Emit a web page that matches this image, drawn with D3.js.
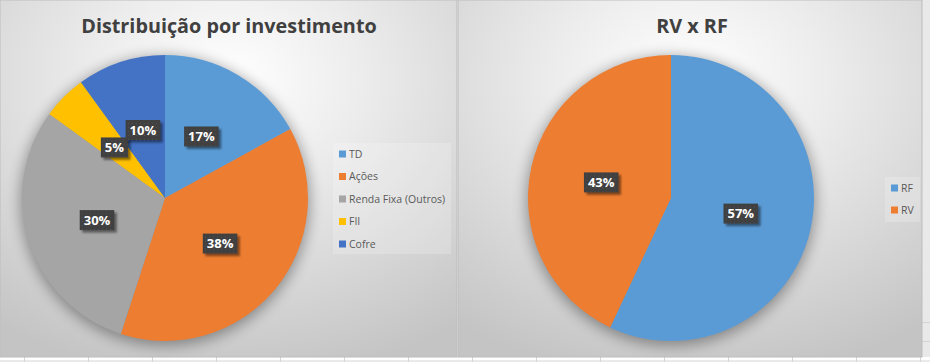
<!DOCTYPE html>
<html>
<head>
<meta charset="utf-8">
<script src="https://cdn.jsdelivr.net/npm/d3@7"></script>
<style>
  body { margin: 0; background: #fff; }
  svg { display: block; }
  text { font-family: "Open Sans", "Noto Sans", sans-serif; }
</style>
</head>
<body>
<div id="chart"></div>
<script>
// data
const invCategories = ['TD', 'Ações', 'Renda Fixa (Outros)', 'FII', 'Cofre'];
const invValues = [17, 38, 30, 5, 10];
const invColors = ['#5B9BD5', '#ED7D31', '#A5A5A5', '#FFC000', '#4472C4'];

const rvrfCategories = ['RF', 'RV'];
const rvrfValues = [57, 43];
const rvrfColors = ['#5B9BD5', '#ED7D31'];

const W = 930, H = 362;

const svg = d3.select('#chart').append('svg')
    .attr('width', W)
    .attr('height', H);

const defs = svg.append('defs');

const grad = defs.append('radialGradient')
    .attr('id', 'bg')
    .attr('cx', '50%').attr('cy', '22%').attr('r', '85%');
grad.append('stop').attr('offset', '0%').attr('stop-color', '#ffffff');
grad.append('stop').attr('offset', '35%').attr('stop-color', '#ececec');
grad.append('stop').attr('offset', '100%').attr('stop-color', '#c4c4c4');

const pieShadow = defs.append('filter').attr('id', 'pieShadow')
    .attr('x', '-20%').attr('y', '-20%').attr('width', '140%').attr('height', '140%');
pieShadow.append('feGaussianBlur').attr('stdDeviation', 7);

const boxShadow = defs.append('filter').attr('id', 'boxShadow')
    .attr('x', '-30%').attr('y', '-30%').attr('width', '160%').attr('height', '160%');
boxShadow.append('feGaussianBlur').attr('stdDeviation', 1.2);

const dots = defs.append('pattern').attr('id', 'dots')
    .attr('width', 4).attr('height', 4)
    .attr('patternUnits', 'userSpaceOnUse');
dots.append('rect').attr('width', 4).attr('height', 4).attr('fill', '#404040');
dots.append('rect').attr('x', 1).attr('y', 1).attr('width', 1).attr('height', 1).attr('fill', '#555');

// grid strip at the bottom (spreadsheet cells)
svg.append('rect').attr('x', 0).attr('y', 357).attr('width', W).attr('height', 5).attr('fill', '#fff');
svg.append('line').attr('x1', 0).attr('x2', W).attr('y1', 361).attr('y2', 361)
    .attr('stroke', '#d4d4d4');
d3.range(24, W, 64).forEach(x => {
  svg.append('line').attr('x1', x + 0.5).attr('x2', x + 0.5).attr('y1', 357).attr('y2', 362)
      .attr('stroke', '#d4d4d4');
});
svg.append('rect').attr('x', 922).attr('y', 0).attr('width', 8).attr('height', 357).attr('fill', '#e9e9e9');
[322, 341].forEach(y => {
  svg.append('line').attr('x1', 922).attr('x2', W).attr('y1', y + 0.5).attr('y2', y + 0.5)
      .attr('stroke', '#d4d4d4');
});

function drawPanel(opts) {
  const g = svg.append('g').attr('transform', `translate(${opts.x},0)`);
  const pw = opts.w, ph = 357;

  g.append('rect')
      .attr('width', pw).attr('height', ph)
      .attr('fill', 'url(#bg)')
      .attr('stroke', '#bdbdbd');

  g.append('text')
      .attr('x', opts.titleX)
      .attr('y', 33)
      .attr('text-anchor', 'middle')
      .attr('font-size', 19.8)
      .attr('font-weight', 700)
      .attr('fill', '#404040')
      .text(opts.title);

  const r = 143;
  const pie = d3.pie().sort(null).value(d => d.value);
  const arcs = pie(opts.categories.map((c, i) => ({ name: c, value: opts.values[i], color: opts.colors[i] })));
  const total = d3.sum(opts.values);
  const arc = d3.arc().innerRadius(0).outerRadius(r);
  const labelArc = d3.arc().innerRadius(r * 0.5).outerRadius(r * 0.5);

  const pg = g.append('g').attr('transform', `translate(${opts.cx},198)`);

  pg.append('circle')
      .attr('cy', 3)
      .attr('r', r + 2)
      .attr('fill', '#000')
      .attr('opacity', 0.35)
      .attr('filter', 'url(#pieShadow)');

  pg.selectAll('path.slice')
      .data(arcs)
      .enter()
      .append('path')
      .attr('class', 'slice')
      .attr('d', arc)
      .attr('fill', d => d.data.color);

  const lab = pg.selectAll('g.lab')
      .data(arcs)
      .enter()
      .append('g')
      .attr('class', 'lab')
      .attr('transform', d => `translate(${labelArc.centroid(d)})`);

  lab.each(function (d) {
    const el = d3.select(this);
    const txt = d3.format('.0%')(d.data.value / total);
    const t = el.append('text')
        .attr('text-anchor', 'middle')
        .attr('dy', '0.36em')
        .attr('font-size', 13)
        .attr('font-weight', 700)
        .attr('fill', '#fff')
        .text(txt);
    const tw = t.node().getComputedTextLength();
    const bw = tw + 8, bh = 20;
    el.insert('rect', 'text')
        .attr('x', -bw / 2 + 2.5).attr('y', -bh / 2 + 2.5)
        .attr('width', bw).attr('height', bh)
        .attr('fill', '#000').attr('opacity', 0.45)
        .attr('filter', 'url(#boxShadow)');
    el.insert('rect', 'text')
        .attr('x', -bw / 2).attr('y', -bh / 2)
        .attr('width', bw).attr('height', bh)
        .attr('fill', 'url(#dots)');
  });

  // legend
  const lg = g.append('g');
  lg.append('rect')
      .attr('x', opts.legend.x).attr('y', opts.legend.y)
      .attr('width', opts.legend.w).attr('height', opts.legend.h)
      .attr('fill', '#ffffff').attr('opacity', 0.2);
  const items = lg.selectAll('g.item')
      .data(opts.categories)
      .enter()
      .append('g')
      .attr('class', 'item')
      .attr('transform', (d, i) => `translate(${opts.legend.x + 6},${opts.legend.y + opts.legend.top + i * opts.legend.step})`);
  items.append('rect')
      .attr('x', 0).attr('y', -3.5)
      .attr('width', 7).attr('height', 7)
      .attr('fill', (d, i) => opts.colors[i]);
  items.append('text')
      .attr('x', 10)
      .attr('dy', '0.36em')
      .attr('font-size', 10.5)
      .attr('fill', '#595959')
      .text(d => d);
}

drawPanel({
  x: 0, w: 457,
  title: 'Distribuição por investimento', titleX: 229,
  categories: invCategories, values: invValues, colors: invColors,
  cx: 165,
  legend: { x: 333, y: 143, w: 118, h: 111, top: 11, step: 22.5 }
});

drawPanel({
  x: 458, w: 464,
  title: 'RV x RF', titleX: 234,
  categories: rvrfCategories, values: rvrfValues, colors: rvrfColors,
  cx: 213,
  legend: { x: 427, y: 177, w: 35, h: 45, top: 11, step: 22 }
});
</script>
</body>
</html>
